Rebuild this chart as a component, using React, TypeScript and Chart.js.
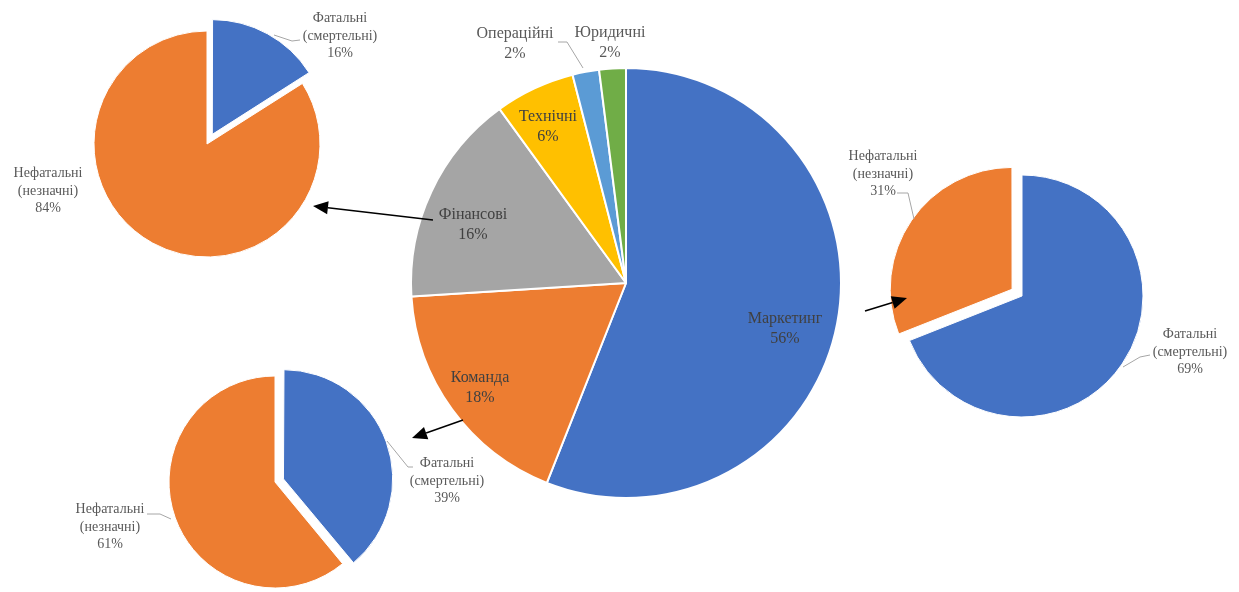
import React, { useEffect, useRef } from "react";
import { Chart, registerables } from "chart.js";

Chart.register(...registerables);

// ---------- DATA ----------
const mainCategories = ["Маркетинг", "Команда", "Фінансові", "Технічні", "Операційні", "Юридичні"];
const mainValues = [56, 18, 16, 6, 2, 2];

const riskCategories = ["Фатальні (смертельні)", "Нефатальні (незначні)"];
const financeRiskValues = [16, 84];
const teamRiskValues = [39, 61];
const marketingRiskValues = [69, 31];

// ---------- STYLE / LAYOUT ----------
const W = 1239;
const H = 592;
const FONT = '"Liberation Serif", "Times New Roman", serif';
const mainColors = ["#4472C4", "#ED7D31", "#A5A5A5", "#FFC000", "#5B9BD5", "#70AD47"];
const riskColors = ["#4472C4", "#ED7D31"];

type Pt = [number, number];
type PieSpec = {
  labels: string[];
  values: number[];
  colors: string[];
  offsets: number[]; // Chart.js arc offset (translation = offset / 4)
  cx: number;
  cy: number;
  r: number;
  border: number;
  labelPos: Pt[];
  textColors: string[];
  font: number;
  lineH: number;
  splitName: boolean;
  leaders: Pt[][];
  arrows?: [Pt, Pt][];
};

const specs: PieSpec[] = [
  {
    labels: riskCategories,
    values: financeRiskValues,
    colors: riskColors,
    offsets: [44, 0],
    cx: 207,
    cy: 144,
    r: 113,
    border: 1,
    labelPos: [[340, 36], [48, 191]],
    textColors: ["#595959", "#595959"],
    font: 14,
    lineH: 17.5,
    splitName: true,
    leaders: [[[274, 35], [292, 41], [300, 40]]],
  },
  {
    labels: riskCategories,
    values: teamRiskValues,
    colors: riskColors,
    offsets: [36, 0],
    cx: 275,
    cy: 482,
    r: 106,
    border: 1,
    labelPos: [[447, 481], [110, 527]],
    textColors: ["#595959", "#595959"],
    font: 14,
    lineH: 17.5,
    splitName: true,
    leaders: [
      [[387, 441], [408, 467], [413, 467]],
      [[147, 514], [160, 514], [171, 519]],
    ],
  },
  {
    labels: riskCategories,
    values: marketingRiskValues,
    colors: riskColors,
    offsets: [0, 48],
    cx: 1022,
    cy: 296,
    r: 121,
    border: 1,
    labelPos: [[1190, 352], [883, 174]],
    textColors: ["#595959", "#595959"],
    font: 14,
    lineH: 17.5,
    splitName: true,
    leaders: [
      [[1123, 367], [1140, 357], [1150, 355]],
      [[897, 193], [908, 193], [914, 219]],
    ],
  },
  {
    labels: mainCategories,
    values: mainValues,
    colors: mainColors,
    offsets: [0, 0, 0, 0, 0, 0],
    cx: 626,
    cy: 283,
    r: 215,
    border: 2,
    labelPos: [[785, 329], [480, 388], [473, 225], [548, 127], [515, 44], [610, 43]],
    textColors: ["#404040", "#404040", "#404040", "#404040", "#595959", "#595959"],
    font: 16,
    lineH: 19.5,
    splitName: false,
    leaders: [[[558, 42], [567, 42], [583, 68]]],
    arrows: [
      [[433, 220], [313, 206]],
      [[463, 420], [412, 438]],
      [[865, 311], [907, 298]],
    ],
  },
];

function drawArrow(ctx: CanvasRenderingContext2D, from: Pt, to: Pt) {
  const [x1, y1] = from;
  const [x2, y2] = to;
  const ang = Math.atan2(y2 - y1, x2 - x1);
  const headLen = 15;
  const headHalf = 6.5;
  const bx = x2 - headLen * Math.cos(ang);
  const by = y2 - headLen * Math.sin(ang);
  ctx.save();
  ctx.strokeStyle = "#000";
  ctx.fillStyle = "#000";
  ctx.lineWidth = 1.5;
  ctx.beginPath();
  ctx.moveTo(x1, y1);
  ctx.lineTo(bx, by);
  ctx.stroke();
  ctx.beginPath();
  ctx.moveTo(x2, y2);
  ctx.lineTo(bx + headHalf * Math.sin(ang), by - headHalf * Math.cos(ang));
  ctx.lineTo(bx - headHalf * Math.sin(ang), by + headHalf * Math.cos(ang));
  ctx.closePath();
  ctx.fill();
  ctx.restore();
}

function makeChart(canvas: HTMLCanvasElement, spec: PieSpec) {
  const pl = Math.max(0, 2 * spec.cx - W);
  const pr = Math.max(0, W - 2 * spec.cx);
  const pt = Math.max(0, 2 * spec.cy - H);
  const pb = Math.max(0, H - 2 * spec.cy);
  const total = spec.values.reduce((a, b) => a + b, 0);

  const labelPlugin = {
    id: "sliceLabels",
    afterDraw(chart: any) {
      const ctx: CanvasRenderingContext2D = chart.ctx;
      ctx.save();
      ctx.strokeStyle = "#A6A6A6";
      ctx.lineWidth = 1;
      spec.leaders.forEach((pts) => {
        ctx.beginPath();
        pts.forEach(([x, y], i) => (i === 0 ? ctx.moveTo(x, y) : ctx.lineTo(x, y)));
        ctx.stroke();
      });
      ctx.font = `${spec.font}px ${FONT}`;
      ctx.textAlign = "center";
      ctx.textBaseline = "middle";
      const labels = chart.data.labels as string[];
      const data = chart.data.datasets[0].data as number[];
      labels.forEach((name, i) => {
        const pct = Math.round((data[i] / total) * 100) + "%";
        const nameLines = spec.splitName ? name.split(" ") : [name];
        const lines = [...nameLines, pct];
        const [x, y] = spec.labelPos[i];
        const y0 = y - ((lines.length - 1) * spec.lineH) / 2;
        ctx.fillStyle = spec.textColors[i];
        lines.forEach((ln, k) => ctx.fillText(ln, x, y0 + k * spec.lineH));
      });
      (spec.arrows || []).forEach(([a, b]) => drawArrow(ctx, a, b));
      ctx.restore();
    },
  };

  return new Chart(canvas, {
    type: "pie",
    data: {
      labels: spec.labels,
      datasets: [
        {
          data: spec.values,
          backgroundColor: spec.colors,
          borderColor: "#FFFFFF",
          borderWidth: spec.border,
          offset: spec.offsets,
          hoverOffset: 0,
          radius: spec.r,
        } as any,
      ],
    },
    options: {
      responsive: false,
      maintainAspectRatio: false,
      animation: false,
      events: [],
      layout: { padding: { left: pl, right: pr, top: pt, bottom: pb } },
      plugins: {
        legend: { display: false },
        tooltip: { enabled: false },
      },
    },
    plugins: [labelPlugin],
  });
}

export default function App() {
  const refs = useRef<(HTMLCanvasElement | null)[]>([]);

  useEffect(() => {
    const charts = specs.map((s, i) => makeChart(refs.current[i] as HTMLCanvasElement, s));
    return () => charts.forEach((c) => c.destroy());
  }, []);

  return (
    <div
      style={{
        position: "absolute",
        left: 0,
        top: 0,
        width: W,
        height: H,
        background: "#FFFFFF",
        overflow: "hidden",
      }}
    >
      {specs.map((_, i) => (
        <canvas
          key={i}
          ref={(el) => {
            refs.current[i] = el;
          }}
          width={W}
          height={H}
          style={{ position: "absolute", left: 0, top: 0, width: W, height: H }}
        />
      ))}
    </div>
  );
}
